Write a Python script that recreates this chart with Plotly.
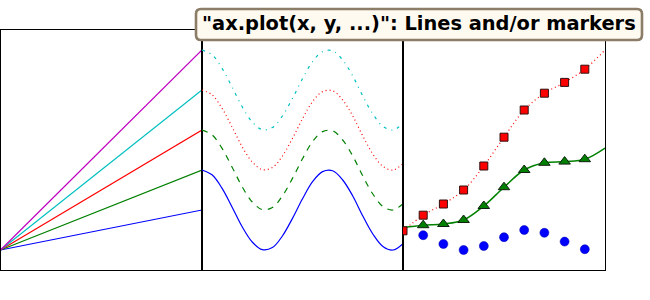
import plotly.graph_objects as go

# ---------------- data ----------------
# panel 1: straight fan of lines from the origin
fan_x = [0, 1]
fan_ends = [1, 2, 3, 4, 5]
fan_colors = ["#0000ff", "#008000", "#ff0000", "#00bfbf", "#bf00bf"]

# panel 2: shifted waves (cos-shaped)
wave_x = [0, 0.5, 1, 1.5, 2, 2.5, 3, 3.5, 4, 4.5, 5, 5.5, 6, 6.5, 7, 7.5,
          8, 8.5, 9, 9.5, 10]
wave_y = [1.00, 0.88, 0.54, 0.07, -0.42, -0.80, -0.99, -0.94, -0.65, -0.21,
          0.28, 0.71, 0.96, 0.98, 0.75, 0.35, -0.15, -0.60, -0.91, -1.00, -0.84]
wave_offsets = [1, 2, 3, 4]
wave_colors = ["#0000ff", "#008000", "#ff0000", "#00bfbf"]
wave_dashes = ["solid", "6px,6px", "1px,3px", "3px,5px,1px,5px"]

# panel 3: lines and markers
pts_x = [0, 1, 2, 3, 4, 5, 6, 7, 8, 9, 10]
red_y = [0.48, 0.87, 1.15, 1.50, 2.10, 2.82, 3.50, 3.92, 4.19, 4.52, 5.00]
green_y = [0.56, 0.62, 0.65, 0.75, 1.10, 1.57, 2.00, 2.18, 2.21, 2.27, 2.55]
blue_x = [1, 2, 3, 4, 5, 6, 7, 8, 9]
blue_y = [0.37, 0.15, 0.00, 0.10, 0.32, 0.50, 0.43, 0.21, 0.02]

title_text = '"ax.plot(x, y, ...)": Lines and/or markers'

W, H = 650, 300
fig = go.Figure()

# panel 1
for end, col in zip(fan_ends, fan_colors):
    fig.add_trace(go.Scatter(x=fan_x, y=[0, end], mode="lines",
                             line=dict(color=col, width=1.2),
                             xaxis="x", yaxis="y", showlegend=False))

# panel 2
for off, col, dash in zip(wave_offsets, wave_colors, wave_dashes):
    fig.add_trace(go.Scatter(x=wave_x, y=[v + off for v in wave_y], mode="lines",
                             line=dict(color=col, width=1.2, dash=dash, shape="spline"),
                             xaxis="x2", yaxis="y2", showlegend=False))

# panel 3
fig.add_trace(go.Scatter(x=pts_x, y=red_y, mode="lines",
                         line=dict(color="#ff0000", width=1.2, dash="1px,3px", shape="spline"),
                         xaxis="x3", yaxis="y3", showlegend=False))
fig.add_trace(go.Scatter(x=pts_x, y=green_y, mode="lines",
                         line=dict(color="#008000", width=1.5, shape="spline"),
                         xaxis="x3", yaxis="y3", showlegend=False))
fig.add_trace(go.Scatter(x=pts_x[:-1], y=red_y[:-1], mode="markers",
                         marker=dict(symbol="square", size=8, color="#ff0000",
                                     line=dict(color="#301010", width=1)),
                         xaxis="x3", yaxis="y3", showlegend=False))
fig.add_trace(go.Scatter(x=pts_x[1:-1], y=green_y[1:-1], mode="markers",
                         marker=dict(symbol="triangle-up", size=10, color="#008000",
                                     line=dict(color="#102010", width=1)),
                         xaxis="x3", yaxis="y3", showlegend=False))
fig.add_trace(go.Scatter(x=blue_x, y=blue_y, mode="markers",
                         marker=dict(symbol="circle", size=9, color="#0000ff",
                                     line=dict(color="#0000aa", width=0.5)),
                         xaxis="x3", yaxis="y3", showlegend=False))

def ax(domain, rng, anchor):
    return dict(domain=domain, range=rng, anchor=anchor, showticklabels=False,
                ticks="", showgrid=False, zeroline=False, showline=True,
                mirror=True, linecolor="black", linewidth=1, fixedrange=True)

yr = [-0.5, 5.5]
ydom = [1 - 270 / H, 1 - 30 / H]
layout = dict(
    width=W, height=H, margin=dict(l=0, r=0, t=0, b=0),
    paper_bgcolor="white", plot_bgcolor="white",
    xaxis=ax([0.5 / W, 202 / W], [0, 1], "y"),
    xaxis2=ax([202 / W, 403 / W], [0, 10], "y2"),
    xaxis3=ax([403 / W, 605 / W], [0, 10], "y3"),
    yaxis=ax(ydom, yr, "x"),
    yaxis2=ax(ydom, yr, "x2"),
    yaxis3=ax(ydom, yr, "x3"),
)
fig.update_layout(**layout)

# rounded title box
bx0, bx1, byt, byb, r = 196, 642, 9, 40, 5
def px(x): return x / W
def py(y): return 1 - y / H
path = (f"M{px(bx0 + r)},{py(byt)} L{px(bx1 - r)},{py(byt)} "
        f"Q{px(bx1)},{py(byt)} {px(bx1)},{py(byt + r)} "
        f"L{px(bx1)},{py(byb - r)} Q{px(bx1)},{py(byb)} {px(bx1 - r)},{py(byb)} "
        f"L{px(bx0 + r)},{py(byb)} Q{px(bx0)},{py(byb)} {px(bx0)},{py(byb - r)} "
        f"L{px(bx0)},{py(byt + r)} Q{px(bx0)},{py(byt)} {px(bx0 + r)},{py(byt)} Z")
fig.add_shape(type="path", path=path, xref="paper", yref="paper",
              fillcolor="#fffaf0", line=dict(color="#8c7d68", width=2.6), layer="above")
fig.add_annotation(text=f"<b>{title_text}</b>", x=px(419.5), y=py(23.5),
                   xref="paper", yref="paper", xanchor="center", yanchor="middle",
                   showarrow=False,
                   font=dict(family="DejaVu Sans", size=19.4, color="black"))

fig.write_html("out.html")
